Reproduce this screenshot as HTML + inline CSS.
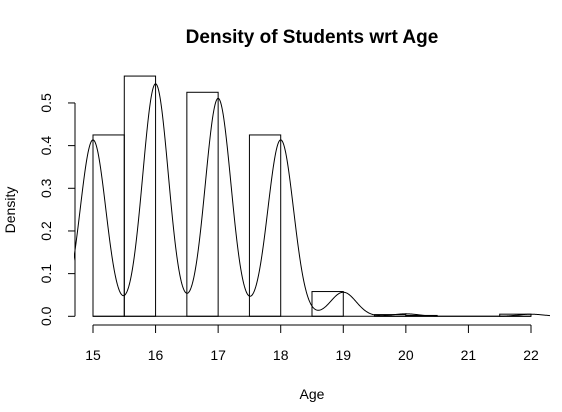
<!DOCTYPE html>
<html><head><meta charset="utf-8"><style>
body{margin:0;background:#fff}
svg{display:block;font-family:"Liberation Sans",Arial,sans-serif}
</style></head><body>
<svg id="c" width="562" height="412">
<defs><clipPath id="clip"><rect x="74" y="40" width="476" height="290"/></clipPath></defs>
<text x="312" y="43" text-anchor="middle" font-size="19" font-weight="bold">Density of Students wrt Age</text>
<text x="312" y="399" text-anchor="middle" font-size="14">Age</text>
<text transform="translate(15,210) rotate(-90)" text-anchor="middle" font-size="14">Density</text>
<g id="bars"></g>
<g id="axes"></g>
<path id="curve" fill="none" stroke="#000" stroke-width="1" clip-path="url(#clip)"/>
</svg>
<script>
const binStarts=[15,15.5,16.5,17.5,18.5,19.5,20,21.5];
const binDensity=[0.425,0.563,0.525,0.425,0.058,0.004,0.002,0.005];
const ages=[15,16,17,18,19,20,22];
const proportions=[0.2125,0.28,0.2625,0.2125,0.029,0.003,0.0025];
const xTicks=[15,16,17,18,19,20,21,22];
const yTicks=[0,0.1,0.2,0.3,0.4,0.5];
const yTickLabels=["0.0","0.1","0.2","0.3","0.4","0.5"];
const bw=0.205;
const NS="http://www.w3.org/2000/svg";
const X=v=>93+(v-15)*62.57;
const Y=v=>316.3-v*426.7;
function mk(t,a,p){const e=document.createElementNS(NS,t);for(const k in a)e.setAttribute(k,a[k]);p.appendChild(e);return e;}
const bars=document.getElementById('bars');
binStarts.forEach((s,i)=>{
  const r=mk('rect',{x:X(s),y:Y(binDensity[i]),width:X(s+0.5)-X(s),height:Y(0)-Y(binDensity[i]),fill:'none',stroke:'#000','stroke-width':1},bars);
  
  
});
mk('line',{x1:X(15),x2:X(22),y1:Y(0),y2:Y(0),stroke:'#000'},bars);
const ax=document.getElementById('axes');
mk('line',{x1:75,x2:75,y1:Y(0.5),y2:Y(0),stroke:'#000'},ax);
yTicks.forEach((v,i)=>{
  mk('line',{x1:68,x2:75,y1:Y(v),y2:Y(v),stroke:'#000'},ax);
  const t=mk('text',{transform:`translate(51,${Y(v)}) rotate(-90)`,'text-anchor':'middle','font-size':14},ax);
  t.textContent=yTickLabels[i];
  
  
});
mk('line',{x1:X(xTicks[0]),x2:X(xTicks[xTicks.length-1]),y1:325,y2:325,stroke:'#000'},ax);
xTicks.forEach(v=>{
  mk('line',{x1:X(v),x2:X(v),y1:325,y2:333,stroke:'#000'},ax);
  const t=mk('text',{x:X(v),y:360,'text-anchor':'middle','font-size':14},ax);
  t.textContent=v;
  
  
});
let d='';
for(let v=14.6;v<=22.4;v+=0.01){
  let s=0;ages.forEach((a,i)=>{s+=proportions[i]*Math.exp(-0.5*((v-a)/bw)**2)/(bw*Math.sqrt(2*Math.PI));});
  d+=(d?'L':'M')+X(v).toFixed(2)+','+Y(s).toFixed(2);
}
document.getElementById('curve').setAttribute('d',d);
</script>
</body></html>
